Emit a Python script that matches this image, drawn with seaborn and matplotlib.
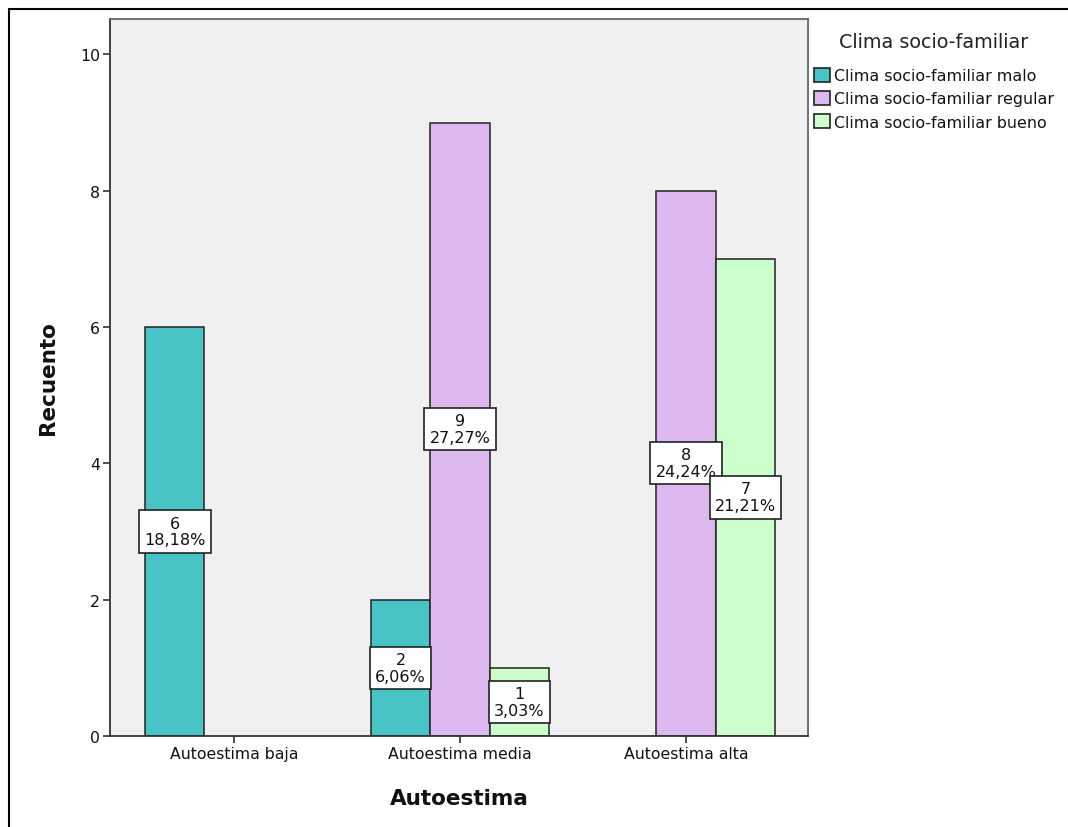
import matplotlib
matplotlib.use("Agg")
import matplotlib.pyplot as plt
import seaborn as sns
import pandas as pd
from matplotlib.lines import Line2D

categories = ["Autoestima baja", "Autoestima media", "Autoestima alta"]
hue_levels = ["Clima socio-familiar malo", "Clima socio-familiar regular", "Clima socio-familiar bueno"]
malo = [6, 2, 0]
regular = [0, 9, 8]
bueno = [0, 1, 7]
colors = ["#48C3C6", "#DDB8F0", "#CCFFCC"]

rows = []
for series, level in zip([malo, regular, bueno], hue_levels):
    for cat, v in zip(categories, series):
        if v > 0:
            rows.append({"Autoestima": cat, "Clima": level, "Recuento": v})
df = pd.DataFrame(rows)
total = sum(malo) + sum(regular) + sum(bueno)

sns.set_style("white")
plt.rcParams["font.family"] = ["DejaVu Sans"]

fig = plt.figure(figsize=(10.68, 8.28), dpi=100)
ax = fig.add_axes([0.103, 0.11, 0.6536, 0.8659])
ax.set_facecolor("#F0F0F0")

sns.barplot(data=df, x="Autoestima", y="Recuento", hue="Clima",
            order=categories, hue_order=hue_levels, palette=colors, saturation=1,
            width=0.79, edgecolor="#222222", linewidth=1.1, ax=ax,
            errorbar=None, legend=False)

for cont in ax.containers:
    labels = [f"{int(v)}\n{v / total * 100:.2f}%".replace(".", ",") for v in cont.datavalues]
    ax.bar_label(cont, labels=labels, label_type="center", fontsize=11.5,
                 linespacing=1.15, color="#111111",
                 bbox=dict(boxstyle="square,pad=0.33", facecolor="white",
                           edgecolor="#222222", linewidth=1.2))

ax.set_xlim(-0.549, 2.54)
ax.set_ylim(0, 10.52)
ax.set_yticks([0, 2, 4, 6, 8, 10])
ax.tick_params(axis="both", direction="out", length=5, width=1.2, color="#333333",
               labelsize=11.3, pad=2, left=True, bottom=True, labelcolor="#111111")
ax.set_xlabel("Autoestima", fontsize=15.5, fontweight="bold", labelpad=20, color="#111111")
ax.set_ylabel("Recuento", fontsize=15.5, fontweight="bold", labelpad=16, color="#111111")
for side in ["left", "bottom"]:
    ax.spines[side].set_color("#333333")
    ax.spines[side].set_linewidth(1.3)
for side in ["top", "right"]:
    ax.spines[side].set_color("#666666")
    ax.spines[side].set_linewidth(1.3)

handles = [plt.Rectangle((0, 0), 1, 1, facecolor=c, edgecolor="#222222", linewidth=1.2)
           for c in colors]
leg = fig.legend(handles, hue_levels, title="Clima socio-familiar",
                 loc="upper left", bbox_to_anchor=(0.762, 0.960), frameon=False,
                 fontsize=11.4, title_fontsize=13.8, handlelength=1.0, handleheight=1.0,
                 handletextpad=0.25, labelspacing=0.48, borderaxespad=0, borderpad=0,
                 labelcolor="#111111")
leg.get_title().set_color("#222222")
leg._legend_box.align = "center"
leg._legend_box.sep = 12

# outer screenshot frame (left and top edges)
fig.add_artist(Line2D([9 / 1068, 9 / 1068], [0, 1 - 10 / 828], transform=fig.transFigure,
                      color="black", linewidth=1.5))
fig.add_artist(Line2D([9 / 1068, 1], [1 - 10 / 828, 1 - 10 / 828], transform=fig.transFigure,
                      color="black", linewidth=1.5))

fig.savefig("out.png", dpi=100)
